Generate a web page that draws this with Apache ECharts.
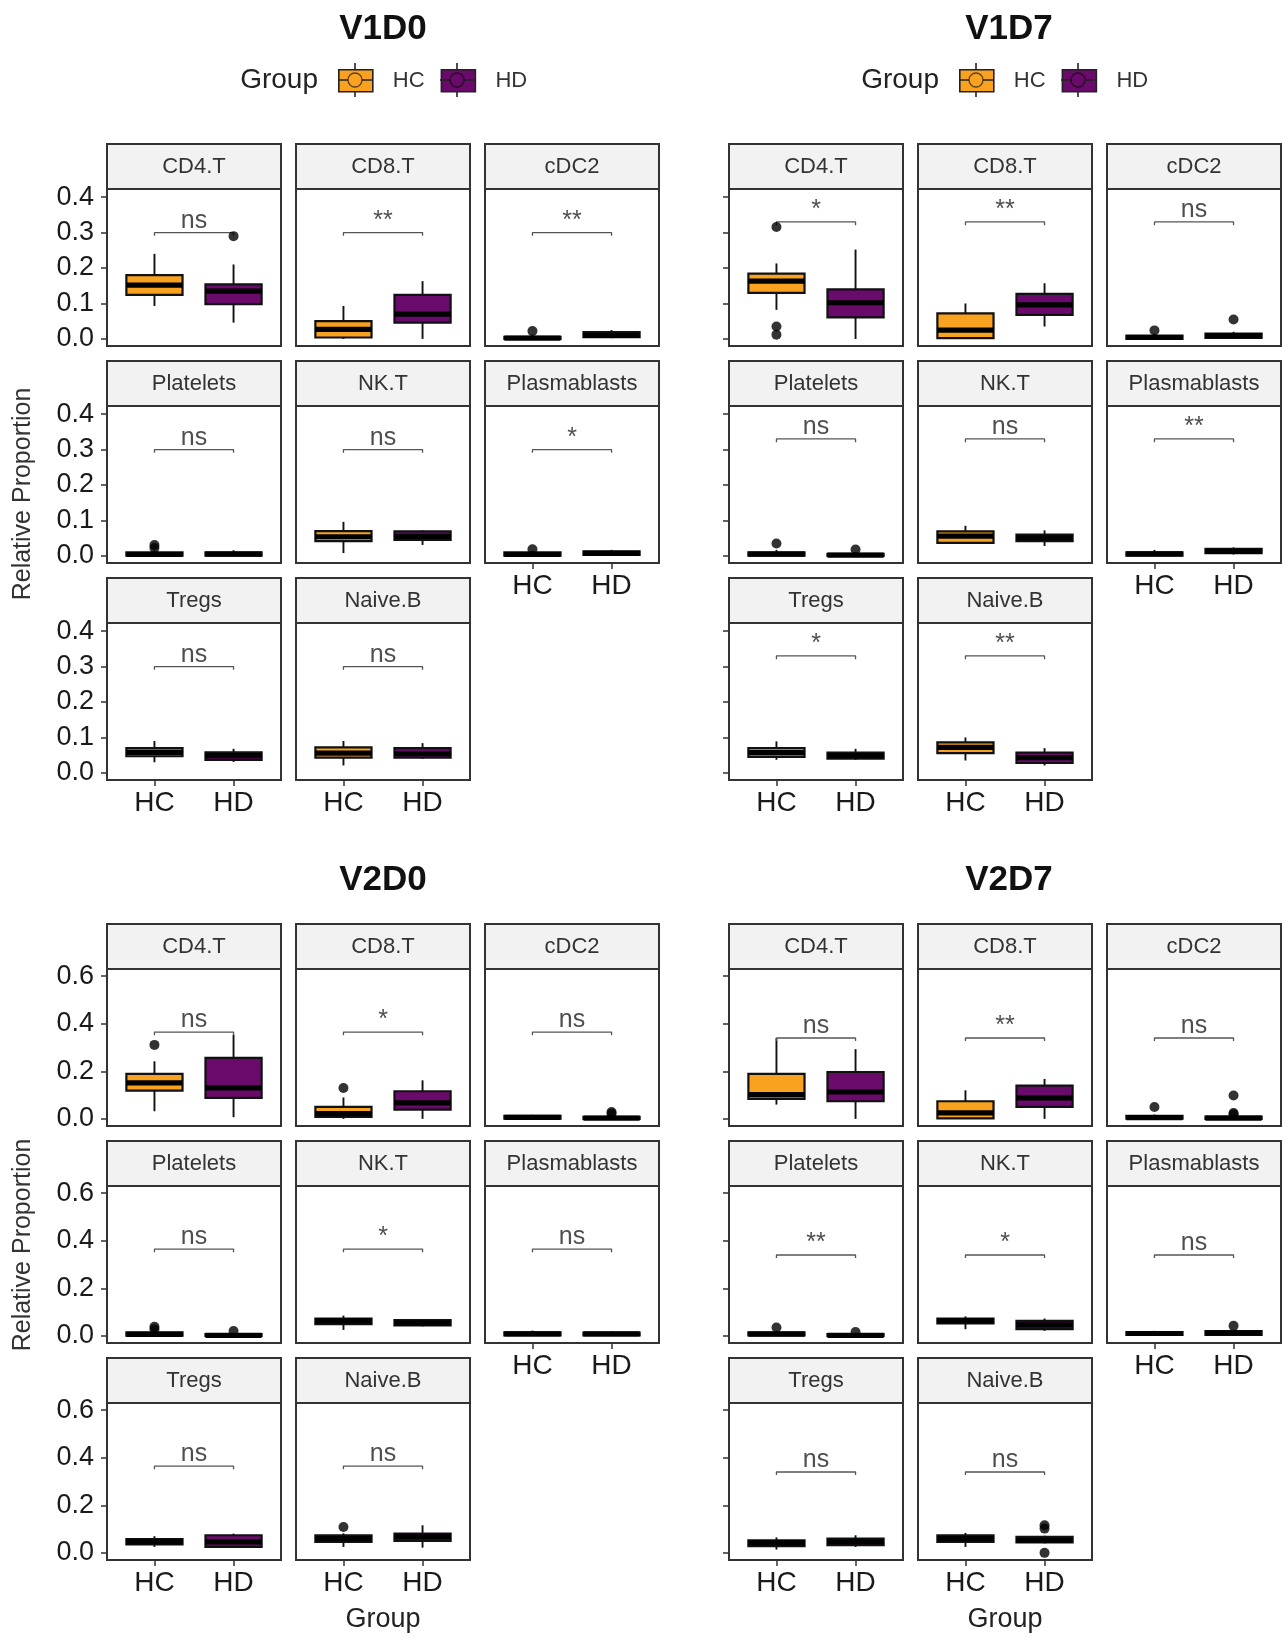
<!DOCTYPE html>
<html>
<head>
<meta charset="utf-8">
<title>Relative Proportion of cell types by group</title>
<script src="https://cdn.jsdelivr.net/npm/echarts@6/dist/echarts.min.js"></script>
<style>
  html, body { margin: 0; padding: 0; background: #ffffff; }
  #chart { width: 1282px; height: 1638px; }
</style>
</head>
<body>
<div id="chart"></div>
<script>
// ---- data -------------------------------------------------------------
const cellTypes = ['CD4.T', 'CD8.T', 'cDC2', 'Platelets', 'NK.T', 'Plasmablasts', 'Tregs', 'Naive.B'];
const groups = ['HC', 'HD'];
const visits = ['V1D0', 'V1D7', 'V2D0', 'V2D7'];

const ticksV1 = [0, 0.1, 0.2, 0.3, 0.4];
const ticksV2 = [0, 0.2, 0.4, 0.6];

// five-number summaries per cell type: [min, Q1, median, Q3, max]
const v1d0HC = [
  [0.093, 0.124, 0.152, 0.180, 0.240], [0.000, 0.004, 0.027, 0.050, 0.093], [0.000, 0.000, 0.002, 0.006, 0.012],
  [0.000, 0.001, 0.004, 0.010, 0.016], [0.008, 0.042, 0.054, 0.070, 0.096], [0.000, 0.001, 0.004, 0.010, 0.014],
  [0.030, 0.047, 0.058, 0.070, 0.090], [0.021, 0.043, 0.056, 0.072, 0.090]
];
const v1d0HD = [
  [0.046, 0.098, 0.135, 0.154, 0.210], [0.000, 0.046, 0.070, 0.124, 0.163], [0.002, 0.005, 0.010, 0.019, 0.025],
  [0.000, 0.001, 0.005, 0.010, 0.016], [0.031, 0.045, 0.055, 0.069, 0.072], [0.001, 0.003, 0.007, 0.013, 0.017],
  [0.031, 0.037, 0.049, 0.058, 0.068], [0.040, 0.043, 0.054, 0.070, 0.084]
];
const v1d7HC = [
  [0.082, 0.130, 0.163, 0.184, 0.213], [0.000, 0.002, 0.025, 0.072, 0.100], [0.000, 0.000, 0.004, 0.009, 0.015],
  [0.000, 0.001, 0.005, 0.010, 0.017], [0.035, 0.037, 0.056, 0.069, 0.085], [0.000, 0.001, 0.006, 0.010, 0.017],
  [0.037, 0.045, 0.057, 0.070, 0.089], [0.035, 0.056, 0.072, 0.086, 0.100]
];
const v1d7HD = [
  [0.000, 0.061, 0.102, 0.140, 0.252], [0.035, 0.068, 0.096, 0.127, 0.157], [0.002, 0.003, 0.009, 0.015, 0.020],
  [0.000, 0.000, 0.002, 0.006, 0.010], [0.028, 0.042, 0.051, 0.060, 0.072], [0.004, 0.008, 0.013, 0.020, 0.024],
  [0.037, 0.040, 0.049, 0.057, 0.068], [0.021, 0.028, 0.043, 0.057, 0.070]
];
const v2d0HC = [
  [0.032, 0.119, 0.151, 0.189, 0.242], [0.000, 0.008, 0.022, 0.050, 0.090], [0.000, 0.001, 0.006, 0.013, 0.017],
  [0.000, 0.001, 0.006, 0.015, 0.020], [0.025, 0.049, 0.063, 0.073, 0.085], [0.000, 0.002, 0.008, 0.015, 0.022],
  [0.025, 0.036, 0.046, 0.058, 0.070], [0.025, 0.046, 0.060, 0.074, 0.082]
];
const v2d0HD = [
  [0.007, 0.088, 0.130, 0.256, 0.353], [0.000, 0.039, 0.067, 0.116, 0.162], [0.000, 0.000, 0.003, 0.008, 0.012],
  [0.000, 0.000, 0.002, 0.007, 0.010], [0.040, 0.044, 0.055, 0.066, 0.070], [0.001, 0.002, 0.008, 0.014, 0.018],
  [0.022, 0.025, 0.046, 0.074, 0.081], [0.022, 0.050, 0.067, 0.081, 0.116]
];
const v2d7HC = [
  [0.060, 0.084, 0.102, 0.189, 0.339], [0.000, 0.002, 0.025, 0.074, 0.120], [0.000, 0.001, 0.005, 0.013, 0.018],
  [0.000, 0.002, 0.007, 0.015, 0.020], [0.028, 0.052, 0.063, 0.073, 0.082], [0.003, 0.004, 0.010, 0.016, 0.021],
  [0.014, 0.028, 0.042, 0.053, 0.065], [0.025, 0.046, 0.060, 0.074, 0.084]
];
const v2d7HD = [
  [0.000, 0.074, 0.113, 0.197, 0.293], [0.000, 0.050, 0.088, 0.140, 0.168], [0.000, 0.000, 0.003, 0.010, 0.014],
  [0.000, 0.000, 0.002, 0.007, 0.010], [0.021, 0.028, 0.046, 0.063, 0.073], [0.003, 0.004, 0.012, 0.020, 0.024],
  [0.025, 0.032, 0.046, 0.060, 0.074], [0.040, 0.044, 0.053, 0.067, 0.072]
];

// outlying samples per cell type
const v1d0OutHC = [[], [], [0.022], [0.031, 0.022], [], [0.019], [], []];
const v1d0OutHD = [[0.29], [], [], [], [], [], [], []];
const v1d7OutHC = [[0.316, 0.035, 0.012], [], [0.024], [0.035], [], [], [], []];
const v1d7OutHD = [[], [], [0.055], [0.018], [], [], [], []];
const v2d0OutHC = [[0.311], [0.13], [], [0.038, 0.028], [], [], [], [0.109]];
const v2d0OutHD = [[], [], [0.029, 0.021], [0.02], [], [], [], []];
const v2d7OutHC = [[], [], [0.05], [0.035], [], [], [], []];
const v2d7OutHD = [[], [], [0.098, 0.025, 0.019], [0.016], [], [0.042], [], [0.116, 0.102, 0.0]];

// HC vs HD significance per cell type
const v1d0Sig = ['ns', '**', '**', 'ns', 'ns', '*', 'ns', 'ns'];
const v1d7Sig = ['*', '**', 'ns', 'ns', 'ns', '**', '*', '**'];
const v2d0Sig = ['ns', '*', 'ns', 'ns', '*', 'ns', 'ns', 'ns'];
const v2d7Sig = ['ns', '**', 'ns', '**', '*', 'ns', 'ns', 'ns'];

// height of the comparison bracket in each visit panel
const bracketHeights = [0.30, 0.33, 0.365, 0.34];

// ---- styling / layout ------------------------------------------------------
const FONT = "'Liberation Sans', Arial, Helvetica, sans-serif";
const COLORS = { HC: '#F9A21F', HD: '#6A0A6A' };
const BOX_WIDTH = 0.71;          // in x-axis units (HC = 1, HD = 2)
const COL_W = 174, COL_PITCH = 189;
const STRIP_H = 45, PANEL_H = 157, ROW_PITCH = 217;

const blocks = [
  { title: visits[0], hc: v1d0HC, hd: v1d0HD, outHC: v1d0OutHC, outHD: v1d0OutHD, sig: v1d0Sig, bracket: bracketHeights[0],
    tip: 0.009, yMin: -0.02, yMax: 0.423, ticks: ticksV1, left: 107, top: 144, titleX: 383, titleTop: 12,
    yLabels: true, legendLeft: 338, xTitle: false, yTitleY: 494 },
  { title: visits[1], hc: v1d7HC, hd: v1d7HD, outHC: v1d7OutHC, outHD: v1d7OutHD, sig: v1d7Sig, bracket: bracketHeights[1],
    tip: 0.009, yMin: -0.02, yMax: 0.423, ticks: ticksV1, left: 729, top: 144, titleX: 1009, titleTop: 12,
    yLabels: false, legendLeft: 959, xTitle: false },
  { title: visits[2], hc: v2d0HC, hd: v2d0HD, outHC: v2d0OutHC, outHD: v2d0OutHD, sig: v2d0Sig, bracket: bracketHeights[2],
    tip: 0.013, yMin: -0.03, yMax: 0.63, ticks: ticksV2, left: 107, top: 924, titleX: 383, titleTop: 863,
    yLabels: true, legendLeft: null, xTitle: true, yTitleY: 1245 },
  { title: visits[3], hc: v2d7HC, hd: v2d7HD, outHC: v2d7OutHC, outHD: v2d7OutHD, sig: v2d7Sig, bracket: bracketHeights[3],
    tip: 0.013, yMin: -0.03, yMax: 0.63, ticks: ticksV2, left: 729, top: 924, titleX: 1009, titleTop: 863,
    yLabels: false, legendLeft: null, xTitle: true }
];

// box + whiskers + thick median, in the ggplot style
function renderBox(params, api) {
  const x = api.value(0);
  const lo = api.coord([x, api.value(1)]);
  const q1 = api.coord([x, api.value(2)]);
  const md = api.coord([x, api.value(3)]);
  const q3 = api.coord([x, api.value(4)]);
  const hi = api.coord([x, api.value(5)]);
  const w = api.size([BOX_WIDTH, 0])[0];
  const cx = md[0];
  const whisker = { stroke: '#111', lineWidth: 1.9 };
  return {
    type: 'group',
    children: [
      { type: 'line', shape: { x1: cx, y1: hi[1], x2: cx, y2: q3[1] }, style: whisker },
      { type: 'line', shape: { x1: cx, y1: q1[1], x2: cx, y2: lo[1] }, style: whisker },
      { type: 'rect', shape: { x: cx - w / 2, y: q3[1], width: w, height: q1[1] - q3[1] },
        style: { fill: api.visual('color'), stroke: '#111', lineWidth: 2.2 } },
      { type: 'line', shape: { x1: cx - w / 2, y1: md[1], x2: cx + w / 2, y2: md[1] },
        style: { stroke: '#000', lineWidth: 5.2 } }
    ]
  };
}

const option = {
  animation: false,
  backgroundColor: '#ffffff',
  textStyle: { fontFamily: FONT },
  title: [], legend: [], grid: [], xAxis: [], yAxis: [], series: [], graphic: []
};

blocks.forEach(b => {
  option.title.push({
    text: b.title, left: b.titleX, top: b.titleTop, textAlign: 'center', padding: 0,
    textStyle: { fontSize: 35, fontWeight: 'bold', color: '#111', fontFamily: FONT }
  });

  cellTypes.forEach((cell, i) => {
    const row = Math.floor(i / 3), col = i % 3;
    const left = b.left + col * COL_PITCH;
    const stripTop = b.top + row * ROW_PITCH;
    const top = stripTop + STRIP_H;
    const g = option.grid.length;
    const hasXAxis = i >= 5;      // last facet of its column
    const hasYAxis = col === 0;

    option.grid.push({
      left: left, top: top, width: COL_W, height: PANEL_H,
      show: true, borderColor: '#333', borderWidth: 2, backgroundColor: '#fff',
      containLabel: false, outerBoundsMode: 'none'
    });

    option.xAxis.push({
      gridIndex: g, type: 'value', min: 0.4, max: 2.6,
      axisLine: { show: false, onZero: false },
      splitLine: { show: false },
      axisTick: { show: hasXAxis, customValues: [1, 2], length: 6, lineStyle: { color: '#333', width: 1.5 } },
      axisLabel: {
        show: hasXAxis, customValues: [1, 2], margin: 9,
        formatter: v => groups[Math.round(v) - 1],
        fontSize: 28, color: '#1a1a1a', fontFamily: FONT
      }
    });

    option.yAxis.push({
      gridIndex: g, type: 'value', min: b.yMin, max: b.yMax,
      axisLine: { show: false, onZero: false },
      splitLine: { show: false },
      axisTick: { show: hasYAxis, customValues: b.ticks, length: 6, lineStyle: { color: '#333', width: 1.5 } },
      axisLabel: {
        show: hasYAxis && b.yLabels, customValues: b.ticks, margin: 13,
        formatter: v => v.toFixed(1),
        fontSize: 27, color: '#1a1a1a', fontFamily: FONT
      }
    });

    // boxes
    [['HC', b.hc[i], 1], ['HD', b.hd[i], 2]].forEach(([name, stats, x]) => {
      option.series.push({
        type: 'custom', name: name, xAxisIndex: g, yAxisIndex: g,
        data: [[x].concat(stats)],
        encode: { x: 0, y: [1, 2, 3, 4, 5] },
        itemStyle: { color: COLORS[name] },
        renderItem: renderBox, silent: true, z: 2
      });
    });

    // outliers
    option.series.push({
      type: 'scatter', name: 'outliers', xAxisIndex: g, yAxisIndex: g,
      data: b.outHC[i].map(v => [1, v]).concat(b.outHD[i].map(v => [2, v])),
      symbol: 'circle', symbolSize: 10, itemStyle: { color: '#000' }, silent: true, z: 3
    });

    // comparison bracket
    option.series.push({
      type: 'line', name: 'bracket', xAxisIndex: g, yAxisIndex: g,
      data: [[1, b.bracket - b.tip], [1, b.bracket], [2, b.bracket], [2, b.bracket - b.tip]],
      symbol: 'none', lineStyle: { color: '#555', width: 1.3 }, silent: true, z: 3
    });
    option.series.push({
      type: 'scatter', name: 'signif', xAxisIndex: g, yAxisIndex: g,
      data: [[1.5, b.bracket]], symbolSize: 0, silent: true, z: 4,
      label: {
        show: true, position: 'top', distance: -1, formatter: b.sig[i],
        fontSize: 25, color: '#222', fontFamily: FONT
      }
    });

    // facet strip
    option.graphic.push({
      type: 'rect', left: left - 1, top: stripTop - 1,
      shape: { width: COL_W, height: STRIP_H },
      style: { fill: '#F2F2F2', stroke: '#333', lineWidth: 2 }, z: 10
    });
    option.graphic.push({
      type: 'text', x: left + COL_W / 2, y: stripTop + STRIP_H / 2,
      style: { text: cell, fill: '#333', font: '22px ' + FONT, textAlign: 'center', textVerticalAlign: 'middle' },
      z: 11
    });
  });

  if (b.yLabels) {
    option.graphic.push({
      type: 'text', x: 23, y: b.yTitleY, rotation: Math.PI / 2,
      style: { text: 'Relative Proportion', fill: '#333', font: '25px ' + FONT, textAlign: 'center', textVerticalAlign: 'middle' },
      z: 11
    });
  }
  if (b.xTitle) {
    option.graphic.push({
      type: 'text', x: b.left + (3 * COL_PITCH - (COL_PITCH - COL_W)) / 2, y: 1620,
      style: { text: 'Group', fill: '#222', font: '27px ' + FONT, textAlign: 'center', textVerticalAlign: 'middle' },
      z: 11
    });
  }

  if (b.legendLeft !== null) {
    const L = b.legendLeft, T = 69, KW = 34, KH = 22;
    option.legend.push({
      left: L, top: T, padding: 0, orient: 'horizontal',
      itemWidth: KW, itemHeight: KH, itemGap: 16, icon: 'rect', selectedMode: false,
      data: groups.map(n => ({ name: n, itemStyle: { color: COLORS[n], borderColor: '#222', borderWidth: 1.6 } })),
      formatter: n => '{g| }' + n,
      textStyle: { fontSize: 22, color: '#333', fontFamily: FONT, rich: { g: { width: 15 } } }
    });
    option.graphic.push({
      type: 'text', x: L - 20, y: T + KH / 2,
      style: { text: 'Group', fill: '#222', font: '28px ' + FONT, textAlign: 'right', textVerticalAlign: 'middle' },
      z: 11
    });
    // whiskers, median and point glyph drawn on top of each legend key
    [L, L + 102].forEach((kx, k) => {
      const cx = kx + KW / 2, cy = T + KH / 2;
      const ln = { stroke: '#222', lineWidth: 1.6 };
      option.graphic.push(
        { type: 'line', shape: { x1: cx, y1: T - 6, x2: cx, y2: T }, style: ln, z: 20 },
        { type: 'line', shape: { x1: cx, y1: T + KH, x2: cx, y2: T + KH + 6 }, style: ln, z: 20 },
        { type: 'line', shape: { x1: kx, y1: cy, x2: kx + KW, y2: cy }, style: ln, z: 20 },
        { type: 'circle', shape: { cx: cx, cy: cy, r: 7 },
          style: { fill: COLORS[groups[k]], stroke: 'rgba(0,0,0,0.6)', lineWidth: 1.3 }, z: 21 }
      );
    });
  }
});

const chart = echarts.init(document.getElementById('chart'), null, { renderer: 'canvas' });
chart.setOption(option);
</script>
</body>
</html>
